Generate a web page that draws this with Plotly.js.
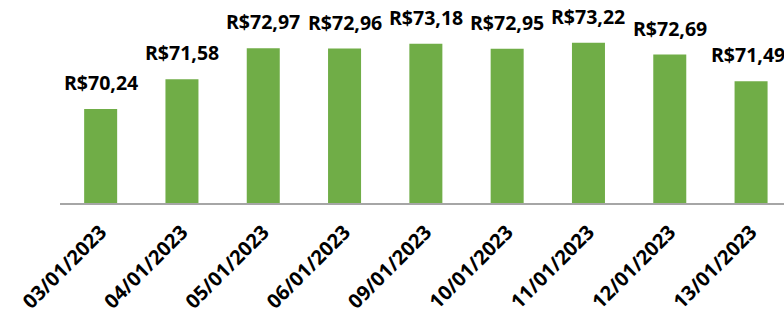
<!DOCTYPE html>
<html><head><meta charset="utf-8">
<script src="https://cdn.plot.ly/plotly-3.0.1.min.js"></script>
<style>html,body{margin:0;padding:0;background:#fff;}#chart{width:784px;height:315px;}</style>
</head><body><div id="chart"></div>
<script>
const dates = ["03/01/2023","04/01/2023","05/01/2023","06/01/2023","09/01/2023","10/01/2023","11/01/2023","12/01/2023","13/01/2023"];
const prices = [70.24, 71.58, 72.97, 72.96, 73.18, 72.95, 73.22, 72.69, 71.49];
const priceLabels = ["R$70,24","R$71,58","R$72,97","R$72,96","R$73,18","R$72,95","R$73,22","R$72,69","R$71,49"];

const FONT = "Open Sans, sans-serif";
const trace = {
  type: "bar",
  x: dates,
  y: prices,
  marker: {color: "#70AD47"},
  hoverinfo: "none"
};
const annotations = dates.map((d, i) => ({
  x: d, y: prices[i], xref: "x", yref: "y",
  text: "<b>" + priceLabels[i] + "</b>",
  showarrow: false, yanchor: "bottom", yshift: 11,
  xshift: i === dates.length - 1 ? -3 : 0,
  font: {family: FONT, size: 19.5, color: "#000"}
}));
const layout = {
  width: 784, height: 315,
  margin: {l: 60, r: 0, t: 0, b: 112},
  paper_bgcolor: "#fff", plot_bgcolor: "#fff",
  bargap: 0.594,
  showlegend: false,
  xaxis: {
    type: "category",
    range: [-0.5, 8.405],
    tickangle: -45,
    tickfont: {family: FONT, size: 20, color: "#000", weight: "bold"},
    ticklabelstandoff: 8,
    showline: true, linecolor: "#A6A6A6", linewidth: 1.5,
    showgrid: false, zeroline: false, ticks: ""
  },
  yaxis: {
    range: [66, 75.15],
    visible: false, showgrid: false, zeroline: false
  },
  annotations: annotations
};
Plotly.newPlot("chart", [trace], layout, {displayModeBar: false, staticPlot: true});
</script></body></html>
